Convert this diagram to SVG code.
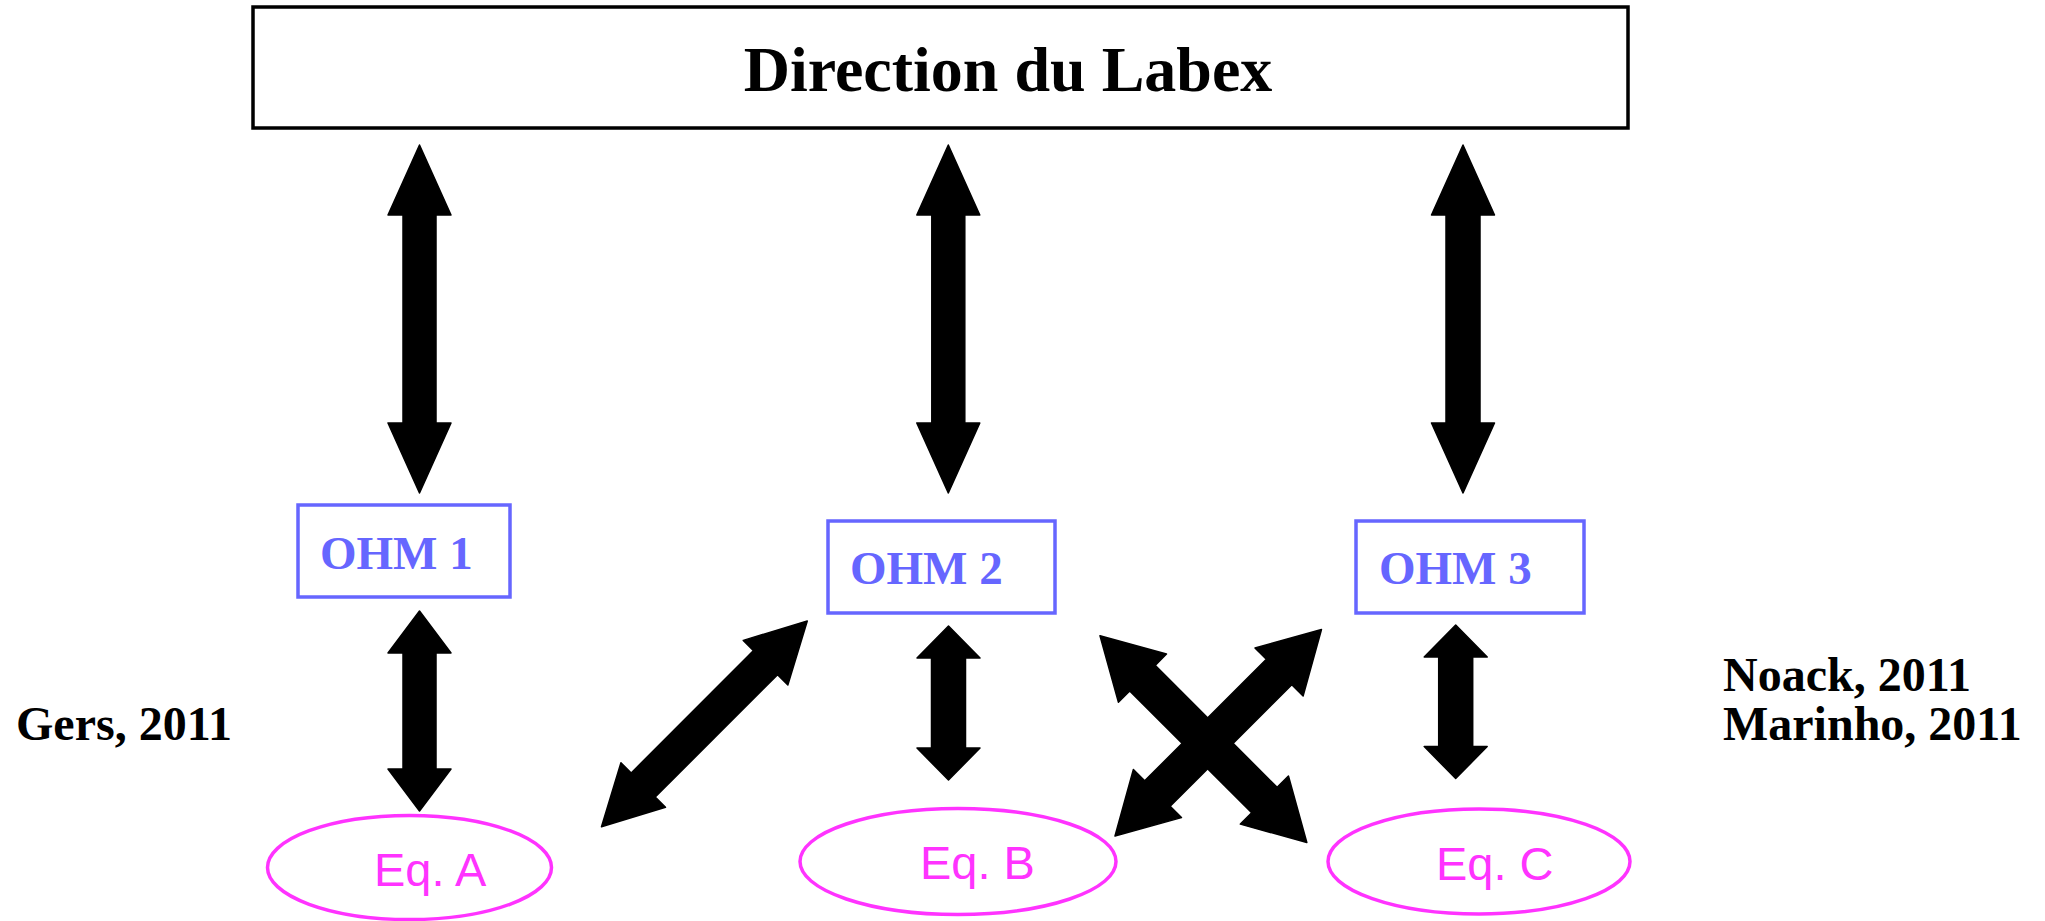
<svg xmlns="http://www.w3.org/2000/svg" width="2045" height="921" viewBox="0 0 2045 921">
<style>
.bg{fill:#ffffff}
.arrow{fill:#000000;stroke:#000000;stroke-width:1.5;stroke-linejoin:round}
.top{fill:#ffffff;stroke:#000000;stroke-width:3.5}
.ohm{fill:#ffffff;stroke:#6666ff;stroke-width:3.5}
.ohmt{font-family:"Liberation Serif","Times New Roman",serif;font-weight:bold;font-size:47px;fill:#6666ff}
.eq{fill:#ffffff;stroke:#ff33ff;stroke-width:3.5}
.eqt{font-family:"Liberation Sans",Arial,sans-serif;font-size:47px;fill:#ff33ff}
.note{font-family:"Liberation Serif","Times New Roman",serif;font-weight:bold;font-size:48px;fill:#000000}
.title{font-family:"Liberation Serif","Times New Roman",serif;font-weight:bold;font-size:64px;fill:#000000}
</style>
<rect class="bg" x="0" y="0" width="2045" height="921"/>
<g id="connectors">
  <path class="arrow" transform="translate(419.5,145) rotate(90)" d="M0,0 L70,-31.5 L70,-16.5 L278,-16.5 L278,-31.5 L348,0 L278,31.5 L278,16.5 L70,16.5 L70,31.5 Z"/>
  <path class="arrow" transform="translate(948.3,145) rotate(90)" d="M0,0 L70,-31.5 L70,-16.5 L278,-16.5 L278,-31.5 L348,0 L278,31.5 L278,16.5 L70,16.5 L70,31.5 Z"/>
  <path class="arrow" transform="translate(1463,145) rotate(90)" d="M0,0 L70,-31.5 L70,-17 L278,-17 L278,-31.5 L348,0 L278,31.5 L278,17 L70,17 L70,31.5 Z"/>
  <path class="arrow" transform="translate(419.5,611) rotate(90)" d="M0,0 L42,-31.5 L42,-16.5 L158,-16.5 L158,-31.5 L200,0 L158,31.5 L158,16.5 L42,16.5 L42,31.5 Z"/>
  <path class="arrow" transform="translate(948.5,626) rotate(90)" d="M0,0 L32,-31.5 L32,-17 L122,-17 L122,-31.5 L154,0 L122,31.5 L122,17 L32,17 L32,31.5 Z"/>
  <path class="arrow" transform="translate(1455.7,625) rotate(90)" d="M0,0 L32,-31.5 L32,-17 L121.5,-17 L121.5,-31.5 L153.5,0 L121.5,31.5 L121.5,17 L32,17 L32,31.5 Z"/>
  <path class="arrow" transform="translate(601.5,826.7) rotate(-45)" d="M0,0 L59,-31.5 L59,-17 L232,-17 L232,-31.5 L291,0 L232,31.5 L232,17 L59,17 L59,31.5 Z"/>
  <path class="arrow" transform="translate(1100,635.7) rotate(45)" d="M0,0 L60,-34 L60,-18 L232.5,-18 L232.5,-34 L292.5,0 L232.5,34 L232.5,18 L60,18 L60,34 Z"/>
  <path class="arrow" transform="translate(1115,836) rotate(-45)" d="M0,0 L60,-34 L60,-18 L232,-18 L232,-34 L292,0 L232,34 L232,18 L60,18 L60,34 Z"/>
</g>
<g id="direction">
  <rect class="top" x="253" y="7" width="1375" height="121"/>
  <text class="title" x="1008" y="91" text-anchor="middle">Direction du Labex</text>
</g>
<g id="ohm1">
  <rect class="ohm" x="298" y="505" width="212" height="92"/>
  <text class="ohmt" x="320" y="569">OHM 1</text>
</g>
<g id="ohm2">
  <rect class="ohm" x="828" y="521" width="227" height="92"/>
  <text class="ohmt" x="850" y="584">OHM 2</text>
</g>
<g id="ohm3">
  <rect class="ohm" x="1356" y="521" width="228" height="92"/>
  <text class="ohmt" x="1379" y="584">OHM 3</text>
</g>
<g id="eqA">
  <ellipse class="eq" cx="409.5" cy="867.5" rx="142" ry="52"/>
  <text class="eqt" x="374" y="886">Eq. A</text>
</g>
<g id="eqB">
  <ellipse class="eq" cx="958" cy="861.5" rx="158" ry="53"/>
  <text class="eqt" x="920" y="879">Eq. B</text>
</g>
<g id="eqC">
  <ellipse class="eq" cx="1479" cy="861.5" rx="151" ry="52.5"/>
  <text class="eqt" x="1436" y="880">Eq. C</text>
</g>
<g id="gers">
  <text class="note" x="16" y="740">Gers, 2011</text>
</g>
<g id="noack">
  <text class="note" x="1723" y="691">Noack, 2011</text>
  <text class="note" x="1723" y="740">Marinho, 2011</text>
</g>
</svg>
